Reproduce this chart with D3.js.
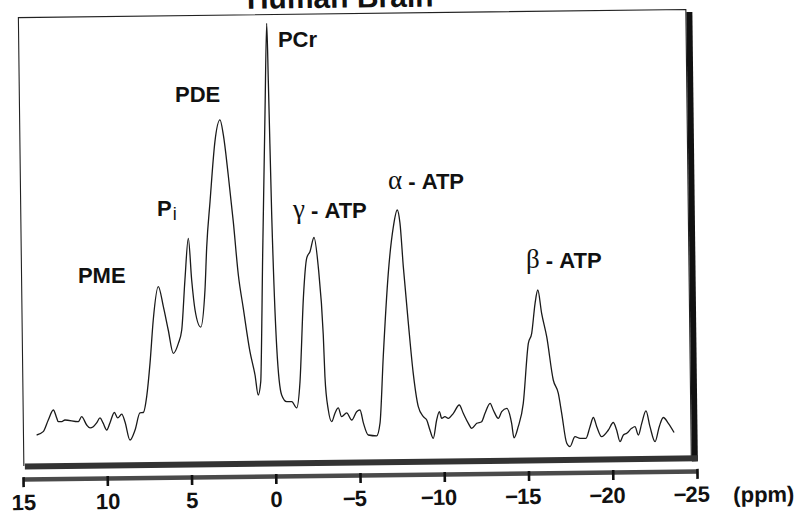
<!DOCTYPE html>
<head>
    <meta charset="utf-8">
    <style>
        * {
            padding: 0;
            margin: 0;
        }
        body {
            background: #fff;
        }
        svg {
            display: block;
        }
    </style>
    <script src="https://cdn.jsdelivr.net/npm/d3@7"></script>
</head>

<body>
    <script>

        /////////////////////////////////////////////////////
        // DATA
        /////////////////////////////////////////////////////

        //Chemical shift of each traced point (ppm)
        const ppm = [
            14.19, 13.80, 13.50, 13.20, 13.00, 12.91, 12.70, 12.51, 11.72, 11.52,
            11.22, 11.02, 10.83, 10.63, 10.43, 10.25, 10.03, 9.84, 9.58, 9.38,
            9.14, 8.95, 8.65, 8.35, 8.06, 7.86, 7.66, 7.46, 7.27, 6.97,
            6.67, 6.38, 6.08, 5.78, 5.58, 5.39, 5.19, 4.99, 4.79, 4.45,
            4.20, 4.10, 3.90, 3.61, 3.31, 3.11, 2.82, 2.52, 2.22, 1.93,
            1.53, 1.23, 1.04, 0.89, 0.77, 0.64, 0.54, 0.44, 0.24, -0.06,
            -0.35, -0.65, -0.95, -1.24, -1.44, -1.64, -1.84, -2.03, -2.27, -2.53,
            -2.82, -2.92, -3.12, -3.32, -3.52, -3.71, -3.91, -4.21, -4.51, -4.80,
            -5.00, -5.20, -5.49, -5.99, -6.19, -6.38, -6.68, -6.98, -7.21, -7.37,
            -7.57, -7.87, -8.16, -8.46, -8.76, -8.96, -9.15, -9.35, -9.55, -9.71,
            -9.85, -10.04, -10.24, -10.54, -10.89, -11.13, -11.43, -11.63, -11.93, -12.22,
            -12.42, -12.72, -12.91, -13.21, -13.41, -13.71, -14.00, -14.14, -14.39, -14.69,
            -14.99, -15.19, -15.39, -15.55, -15.78, -16.08, -16.47, -16.77, -16.97, -17.27,
            -17.46, -17.76, -18.06, -18.41, -18.65, -18.85, -19.05, -19.34, -19.74, -20.03,
            -20.23, -20.43, -20.63, -20.83, -21.12, -21.32, -21.52, -21.72, -21.97, -22.21,
            -22.51, -22.76, -23.00, -23.30, -23.64
        ]

        //Signal (arbitrary units, PCr top = 100)
        const signal = [
            1.2, 2.0, 4.8, 7.2, 5.3, 4.4, 4.4, 4.8, 4.4, 5.6,
            3.6, 2.9, 3.2, 4.1, 5.3, 4.1, 2.4, 4.1, 6.6, 5.3,
            6.2, 4.4, 0.0, 2.4, 6.5, 6.6, 10.4, 18.5, 28.8, 36.8,
            32.0, 26.4, 20.8, 23.2, 26.4, 38.4, 48.4, 38.4, 31.2, 27.1,
            36.0, 46.1, 57.2, 71.6, 76.8, 73.2, 63.6, 52.4, 39.6, 31.7,
            21.2, 15.6, 10.8, 14.0, 46.1, 78.0, 100, 86.0, 54.0, 22.1,
            10.8, 9.2, 9.2, 7.7, 14.0, 34.1, 43.7, 45.2, 48.6, 41.3,
            25.2, 15.2, 7.2, 4.4, 6.5, 7.7, 5.6, 6.5, 4.8, 6.8,
            7.2, 4.1, 1.2, 1.0, 4.1, 20.0, 40.1, 51.2, 55.2, 52.1,
            41.6, 28.0, 16.0, 8.0, 5.6, 4.8, 2.4, 0.4, 4.8, 6.8,
            5.2, 5.6, 5.2, 6.4, 8.4, 6.4, 4.0, 2.8, 4.0, 4.4,
            6.4, 8.8, 7.2, 5.2, 6.8, 7.6, 4.0, 0.5, 3.2, 8.8,
            23.2, 25.6, 32.8, 36.0, 30.4, 24.8, 14.4, 11.2, 6.4, -0.8,
            -1.6, 0.8, 0.4, 0.4, 3.2, 5.4, 3.2, 0.8, 2.4, 4.2,
            2.4, -0.4, 1.2, 1.6, 2.8, 3.2, 1.2, 4.0, 7.0, 3.2,
            -0.4, 3.2, 5.4, 4.0, 1.8
        ]

        const ppmTicks = [15, 10, 5, 0, -5, -10, -15, -20, -25]

        //Peak labels, anchored in data units (left edge / baseline)
        const peakNames = ["PME", "Pi", "PDE", "PCr", "γ - ATP", "α - ATP", "β - ATP"]
        const peakLabelPpm = [11.74, 7.05, 5.98, -0.13, -1.02, -6.66, -14.85]
        const peakLabelLevel = [37.7, 53.8, 81.1, 94.3, 53.3, 60.2, 41.3]

        /////////////////////////////////////////////////////
        // SETUP
        /////////////////////////////////////////////////////

        const width = 801
        const height = 511
        const sans = "'Liberation Sans', Arial, Helvetica, sans-serif"
        const serif = "'Liberation Serif', 'Times New Roman', serif"

        const x = d3.scaleLinear().domain([15, -25]).range([23, 697])
        const y = d3.scaleLinear().domain([0, 100]).range([440, 23.3])

        const svg = d3.select("body").append("svg")
            .attr("width", width)
            .attr("height", height)

        //The scanned figure sits a little crooked on the page
        const g = svg.append("g")
            .attr("transform", "rotate(-0.7, 360, 475)")

        /////////////////////////////////////////////////////
        // FRAME
        /////////////////////////////////////////////////////

        g.append("path")
            .attr("d", "M24,462 V13.5 H691.5 V462")
            .attr("fill", "none")
            .attr("stroke", "#222")
            .attr("stroke-width", 1.1)

        //drop shadow right + bottom
        g.append("rect")
            .attr("x", 692).attr("y", 16)
            .attr("width", 6).attr("height", 449.5)
            .attr("fill", "#111")

        g.append("rect")
            .attr("x", 25).attr("y", 459.5)
            .attr("width", 673).attr("height", 6)
            .attr("fill", "#333")

        //Title (mostly cut off at the top of the scan)
        g.append("text")
            .attr("x", 346)
            .attr("y", 7.5)
            .attr("text-anchor", "middle")
            .style("font-family", sans)
            .style("font-weight", "bold")
            .style("font-size", "30px")
            .attr("fill", "#111")
            .text("Human Brain")

        /////////////////////////////////////////////////////
        // AXIS
        /////////////////////////////////////////////////////

        const axis = g.append("g")
            .attr("transform", "translate(0,475)")
            .call(d3.axisBottom(x)
                .tickValues(ppmTicks)
                .tickSize(8)
                .tickSizeOuter(0)
                .tickFormat(d => Math.abs(d)))

        axis.attr("font-family", null).attr("font-size", null)

        axis.select(".domain")
            .attr("stroke", "#4a4a4a")
            .attr("stroke-width", 4.5)

        axis.selectAll(".tick line")
            .attr("y1", -2)
            .attr("stroke", "#111")
            .attr("stroke-width", 2.6)

        axis.selectAll(".tick text")
            .attr("y", 31)
            .attr("dy", null)
            .attr("fill", "#111")
            .style("font-family", sans)
            .style("font-weight", "bold")
            .style("font-size", "22px")

        //minus signs hang left of the centred digits
        axis.selectAll(".tick").each(function (d) {
            if (d >= 0) return
            const t = d3.select(this).select("text")
            const w = t.node().getComputedTextLength()
            d3.select(this).append("text")
                .attr("x", -w / 2 + 1)
                .attr("y", 31)
                .attr("text-anchor", "end")
                .attr("fill", "#111")
                .style("font-family", sans)
                .style("font-weight", "bold")
                .style("font-size", "22px")
                .text("−")
        })

        g.append("text")
            .attr("x", 733)
            .attr("y", 507)
            .style("font-family", sans)
            .style("font-weight", "bold")
            .style("font-size", "22px")
            .attr("fill", "#111")
            .text("(ppm)")

        /////////////////////////////////////////////////////
        // SPECTRUM
        /////////////////////////////////////////////////////

        const line = d3.line()
            .x(d => x(d[0]))
            .y(d => y(d[1]))
            .curve(d3.curveMonotoneX)

        svg.append("path")
            .datum(d3.zip(ppm, signal))
            .attr("d", line)
            .attr("fill", "none")
            .attr("stroke", "#1a1a1a")
            .attr("stroke-width", 1.3)
            .attr("stroke-linejoin", "round")

        /////////////////////////////////////////////////////
        // PEAK LABELS
        /////////////////////////////////////////////////////

        peakNames.forEach((name, i) => {
            const t = svg.append("text")
                .attr("x", x(peakLabelPpm[i]))
                .attr("y", y(peakLabelLevel[i]))
                .attr("fill", "#111")
                .style("font-family", sans)
                .style("font-weight", "bold")
                .style("font-size", "22px")
                .attr("xml:space", "preserve")

            if (name === "Pi") {
                t.append("tspan").text("P")
                t.append("tspan")
                    .attr("dy", 4)
                    .attr("dx", 1)
                    .style("font-size", "18px")
                    .style("font-weight", "normal")
                    .text("i")
            } else if ("αβγ".includes(name[0])) {
                t.append("tspan")
                    .style("font-family", serif)
                    .style("font-weight", "normal")
                    .style("font-size", "27px")
                    .text(name[0])
                t.append("tspan").text(name.slice(1))
            } else {
                t.text(name)
            }
        })

    </script>
</body>
